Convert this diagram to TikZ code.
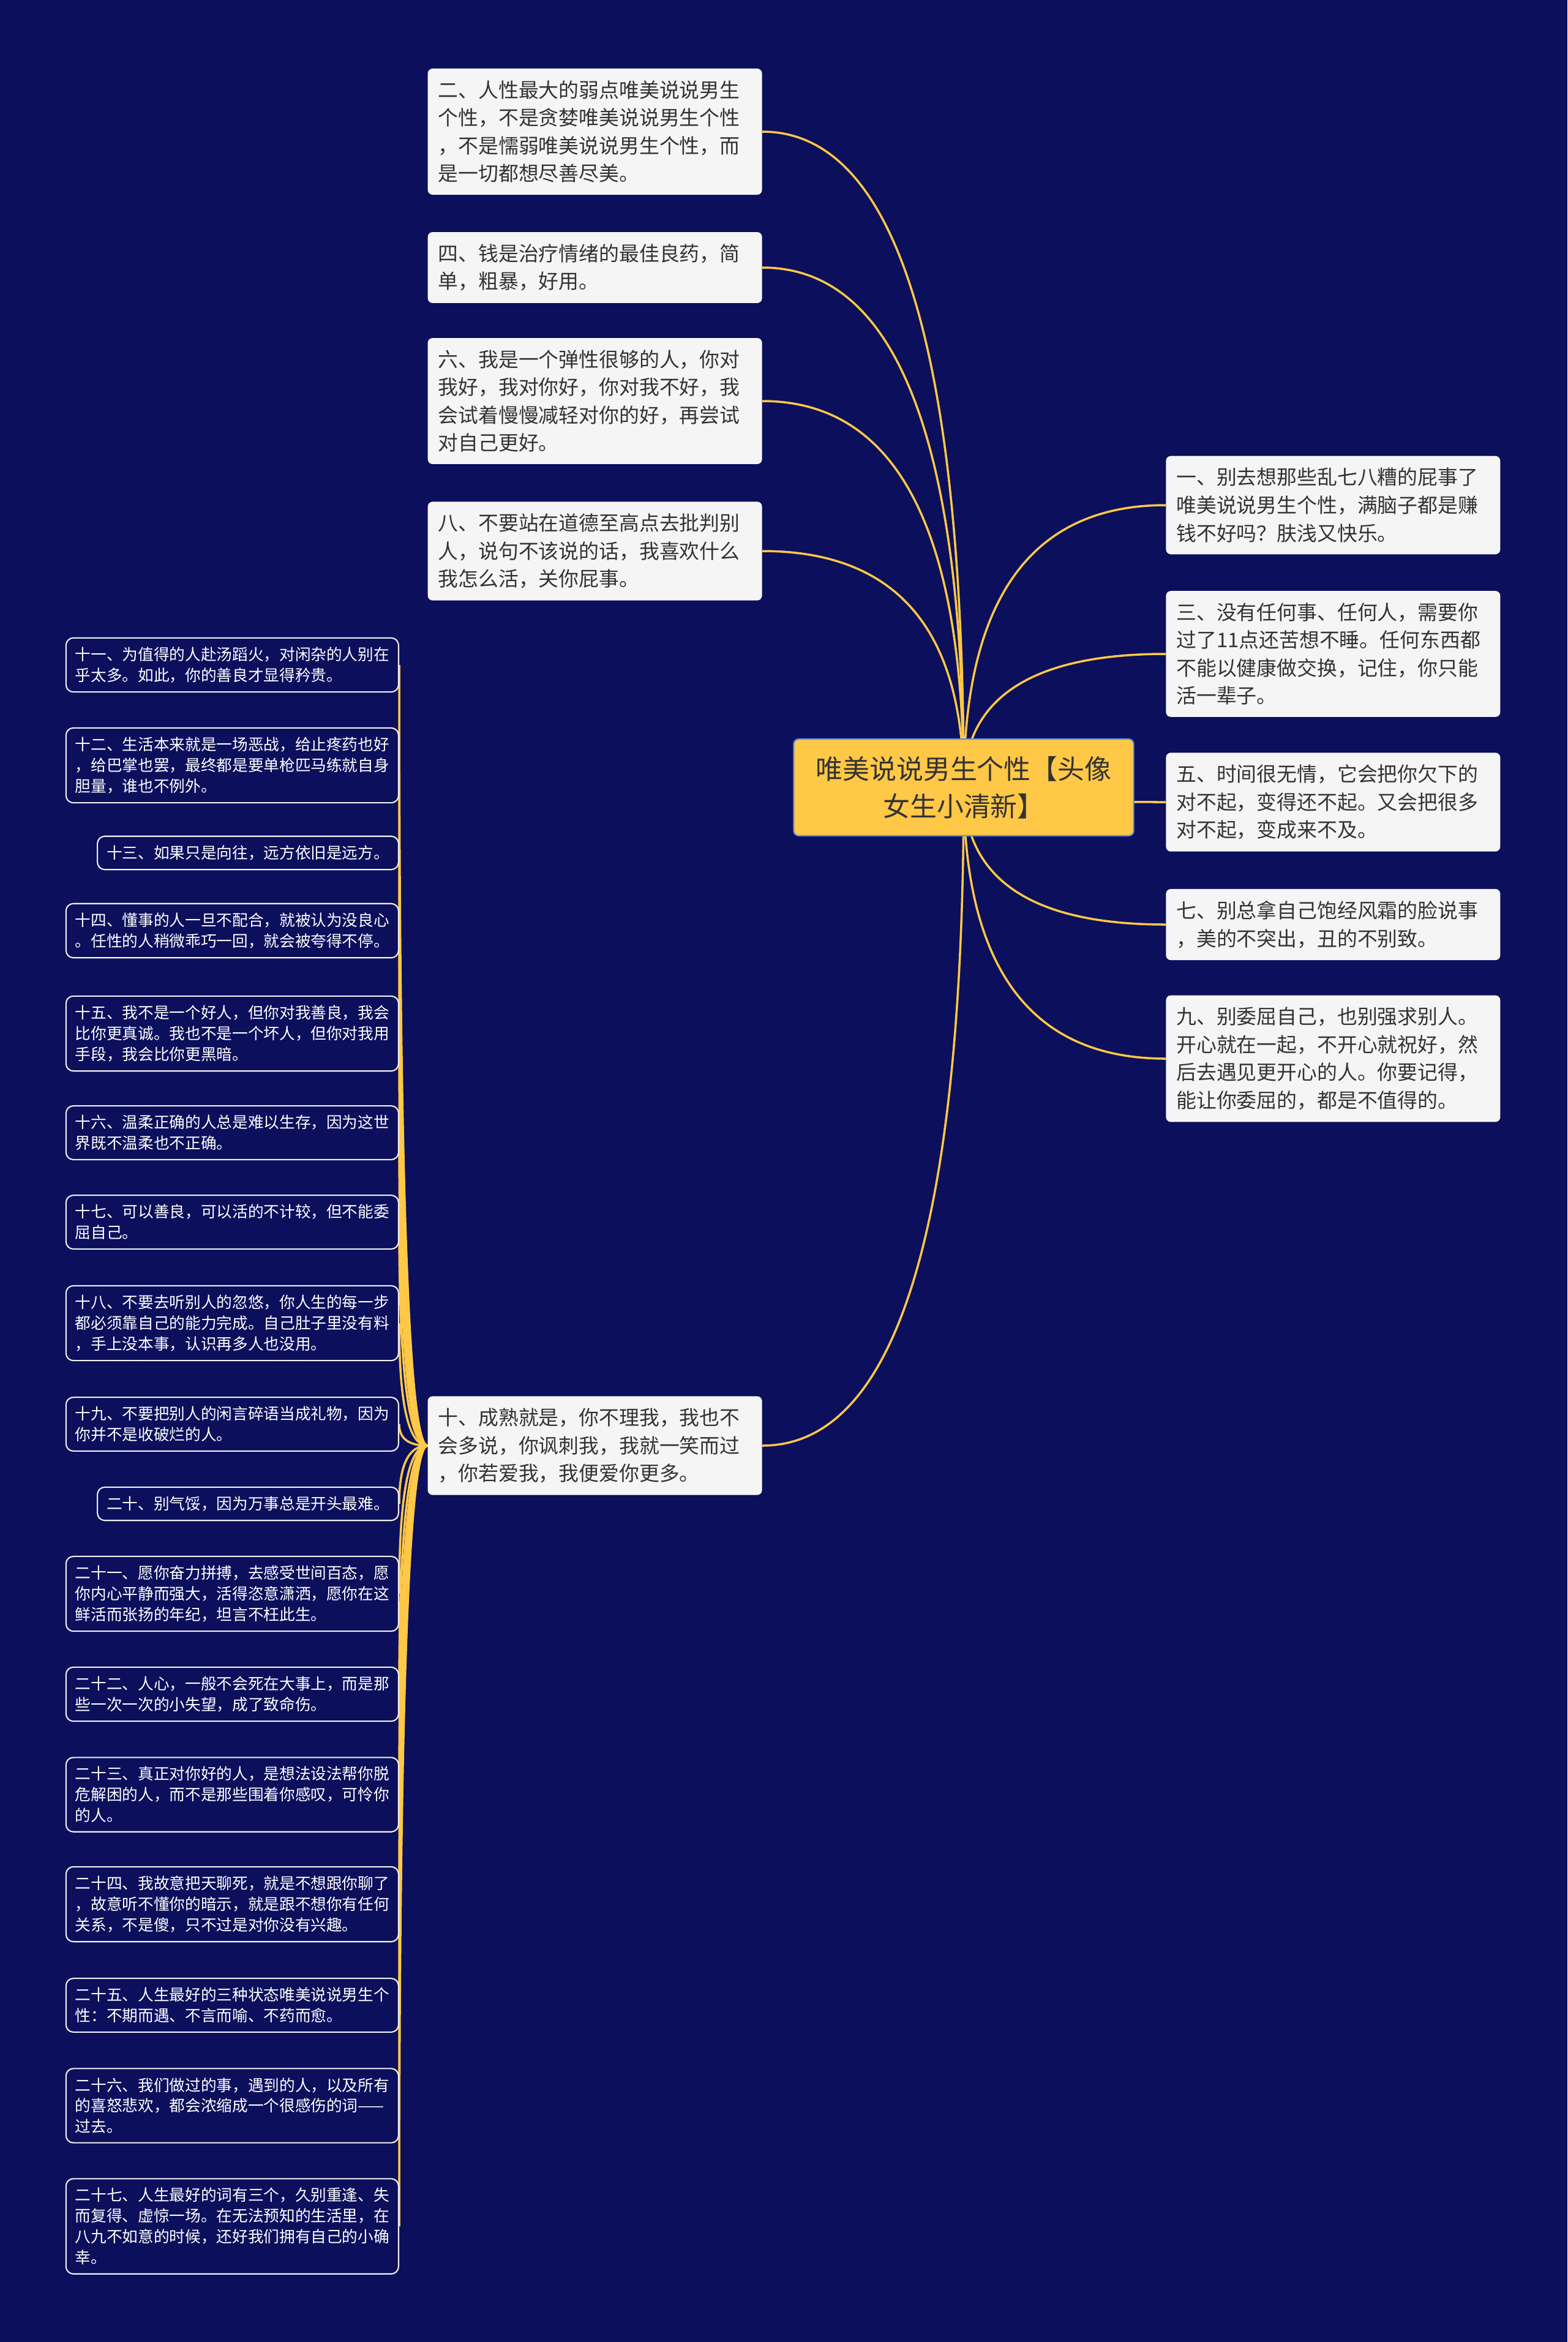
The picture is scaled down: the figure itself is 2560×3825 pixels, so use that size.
\documentclass[tikz,border=0pt]{standalone}
\usepackage{fontspec}
\setmainfont{Noto Sans CJK SC}
\usepackage{xcolor}
\usepackage{tikz}
\usetikzlibrary{calc, backgrounds}

\definecolor{navy}{RGB}{11,15,92}
\definecolor{gold}{RGB}{255,200,70}
\definecolor{rootline}{RGB}{90,140,220}
\definecolor{paper}{RGB}{245,245,245}
\definecolor{ink}{RGB}{51,51,51}

\tikzset{
  topic/.style={draw=rootline, line width=1.2pt, fill=gold, text=ink, rounded corners=0.16cm,
    align=center, inner xsep=0.72cm, inner ysep=0.56cm, font=\fontsize{25pt}{34.7pt}\selectfont},
  idea/.style={fill=paper, text=ink, rounded corners=0.16cm, align=left, text width=10.24cm,
    inner xsep=0.34cm, inner ysep=0.39cm, font=\fontsize{18.7pt}{25.9pt}\selectfont},
  tip/.style={draw=white!88!gray, line width=1.2pt, fill=navy, text=white, rounded corners=0.24cm,
    align=left, inner xsep=0.3cm, inner ysep=0.3cm, anchor=east, font=\fontsize{14.6pt}{19.3pt}\selectfont},
  link/.style={draw=gold, line width=2pt},
  vbend/.style={to path={.. controls ($(\tikztostart)!0.667!(\tikztostart |- \tikztotarget)$)
    and ($(\tikztotarget)!0.667!(\tikztostart |- \tikztotarget)$) .. (\tikztotarget)}},
  hbend/.style={to path={.. controls ($(\tikztostart)!0.667!(\tikztotarget |- \tikztostart)$)
    and ($(\tikztotarget)!0.667!(\tikztotarget |- \tikztostart)$) .. (\tikztotarget)}},
}

\begin{document}
\begin{tikzpicture}[x=0.2mm, y=-0.2mm]
    \useasboundingbox (0,0) rectangle (2560,3825);
    \begin{scope}[on background layer]
        \fill[navy] (0,0) rectangle (2560,3825);
    \end{scope}

    % centre topic
    \node[topic] (root) at (1574,1286) {唯美说说男生个性【头像\\女生小清新】};

    % left column
    \node[idea, anchor=east] (n2) at (1245,215) {二、人性最大的弱点唯美说说男生\\个性，不是贪婪唯美说说男生个性\\，不是懦弱唯美说说男生个性，而\\是一切都想尽善尽美。};
    \node[idea, anchor=east] (n4) at (1245,437) {四、钱是治疗情绪的最佳良药，简\\单，粗暴，好用。};
    \node[idea, anchor=east] (n6) at (1245,655) {六、我是一个弹性很够的人，你对\\我好，我对你好，你对我不好，我\\会试着慢慢减轻对你的好，再尝试\\对自己更好。};
    \node[idea, anchor=east] (n8) at (1245,900) {八、不要站在道德至高点去批判别\\人，说句不该说的话，我喜欢什么\\我怎么活，关你屁事。};
    \node[idea, anchor=east] (n10) at (1245,2361) {十、成熟就是，你不理我，我也不\\会多说，你讽刺我，我就一笑而过\\，你若爱我，我便爱你更多。};

    % right column
    \node[idea, anchor=west] (n1) at (1904,825) {一、别去想那些乱七八糟的屁事了\\唯美说说男生个性，满脑子都是赚\\钱不好吗？肤浅又快乐。};
    \node[idea, anchor=west] (n3) at (1904,1068) {三、没有任何事、任何人，需要你\\过了11点还苦想不睡。任何东西都\\不能以健康做交换，记住，你只能\\活一辈子。};
    \node[idea, anchor=west] (n5) at (1904,1310) {五、时间很无情，它会把你欠下的\\对不起，变得还不起。又会把很多\\对不起，变成来不及。};
    \node[idea, anchor=west] (n7) at (1904,1510) {七、别总拿自己饱经风霜的脸说事\\，美的不突出，丑的不别致。};
    \node[idea, anchor=west] (n9) at (1904,1729) {九、别委屈自己，也别强求别人。\\开心就在一起，不开心就祝好，然\\后去遇见更开心的人。你要记得，\\能让你委屈的，都是不值得的。};

    % children of ten
    \node[tip] (n11) at (652,1086) {十一、为值得的人赴汤蹈火，对闲杂的人别在\\乎太多。如此，你的善良才显得矜贵。};
    \node[tip] (n12) at (652,1250) {十二、生活本来就是一场恶战，给止疼药也好\\，给巴掌也罢，最终都是要单枪匹马练就自身\\胆量，谁也不例外。};
    \node[tip] (n13) at (652,1393) {十三、如果只是向往，远方依旧是远方。};
    \node[tip] (n14) at (652,1520) {十四、懂事的人一旦不配合，就被认为没良心\\。任性的人稍微乖巧一回，就会被夸得不停。};
    \node[tip] (n15) at (652,1688) {十五、我不是一个好人，但你对我善良，我会\\比你更真诚。我也不是一个坏人，但你对我用\\手段，我会比你更黑暗。};
    \node[tip] (n16) at (652,1850) {十六、温柔正确的人总是难以生存，因为这世\\界既不温柔也不正确。};
    \node[tip] (n17) at (652,1996) {十七、可以善良，可以活的不计较，但不能委\\屈自己。};
    \node[tip] (n18) at (652,2161) {十八、不要去听别人的忽悠，你人生的每一步\\都必须靠自己的能力完成。自己肚子里没有料\\，手上没本事，认识再多人也没用。};
    \node[tip] (n19) at (652,2326) {十九、不要把别人的闲言碎语当成礼物，因为\\你并不是收破烂的人。};
    \node[tip] (n20) at (652,2456) {二十、别气馁，因为万事总是开头最难。};
    \node[tip] (n21) at (652,2603) {二十一、愿你奋力拼搏，去感受世间百态，愿\\你内心平静而强大，活得恣意潇洒，愿你在这\\鲜活而张扬的年纪，坦言不枉此生。};
    \node[tip] (n22) at (652,2767) {二十二、人心，一般不会死在大事上，而是那\\些一次一次的小失望，成了致命伤。};
    \node[tip] (n23) at (652,2931) {二十三、真正对你好的人，是想法设法帮你脱\\危解困的人，而不是那些围着你感叹，可怜你\\的人。};
    \node[tip] (n24) at (652,3110) {二十四、我故意把天聊死，就是不想跟你聊了\\，故意听不懂你的暗示，就是跟不想你有任何\\关系，不是傻，只不过是对你没有兴趣。};
    \node[tip] (n25) at (652,3275) {二十五、人生最好的三种状态唯美说说男生个\\性：不期而遇、不言而喻、不药而愈。};
    \node[tip] (n26) at (652,3439) {二十六、我们做过的事，遇到的人，以及所有\\的喜怒悲欢，都会浓缩成一个很感伤的词——\\过去。};
    \node[tip] (n27) at (652,3636) {二十七、人生最好的词有三个，久别重逢、失\\而复得、虚惊一场。在无法预知的生活里，在\\八九不如意的时候，还好我们拥有自己的小确\\幸。};

    % connectors
    \begin{scope}[on background layer]
        \foreach \n in {n2,n4,n6,n8,n10} \draw[link] (root.center) to[vbend] (\n.east);
        \foreach \n in {n1,n3,n5,n7,n9} \draw[link] (root.center) to[vbend] (\n.west);
        \foreach \n in {n11,n12,n13,n14,n15,n16,n17,n18,n19,n20,n21,n22,n23,n24,n25,n26,n27}
            \draw[link] (n10.west) to[hbend] (\n.east);
    \end{scope}
\end{tikzpicture}
\end{document}
